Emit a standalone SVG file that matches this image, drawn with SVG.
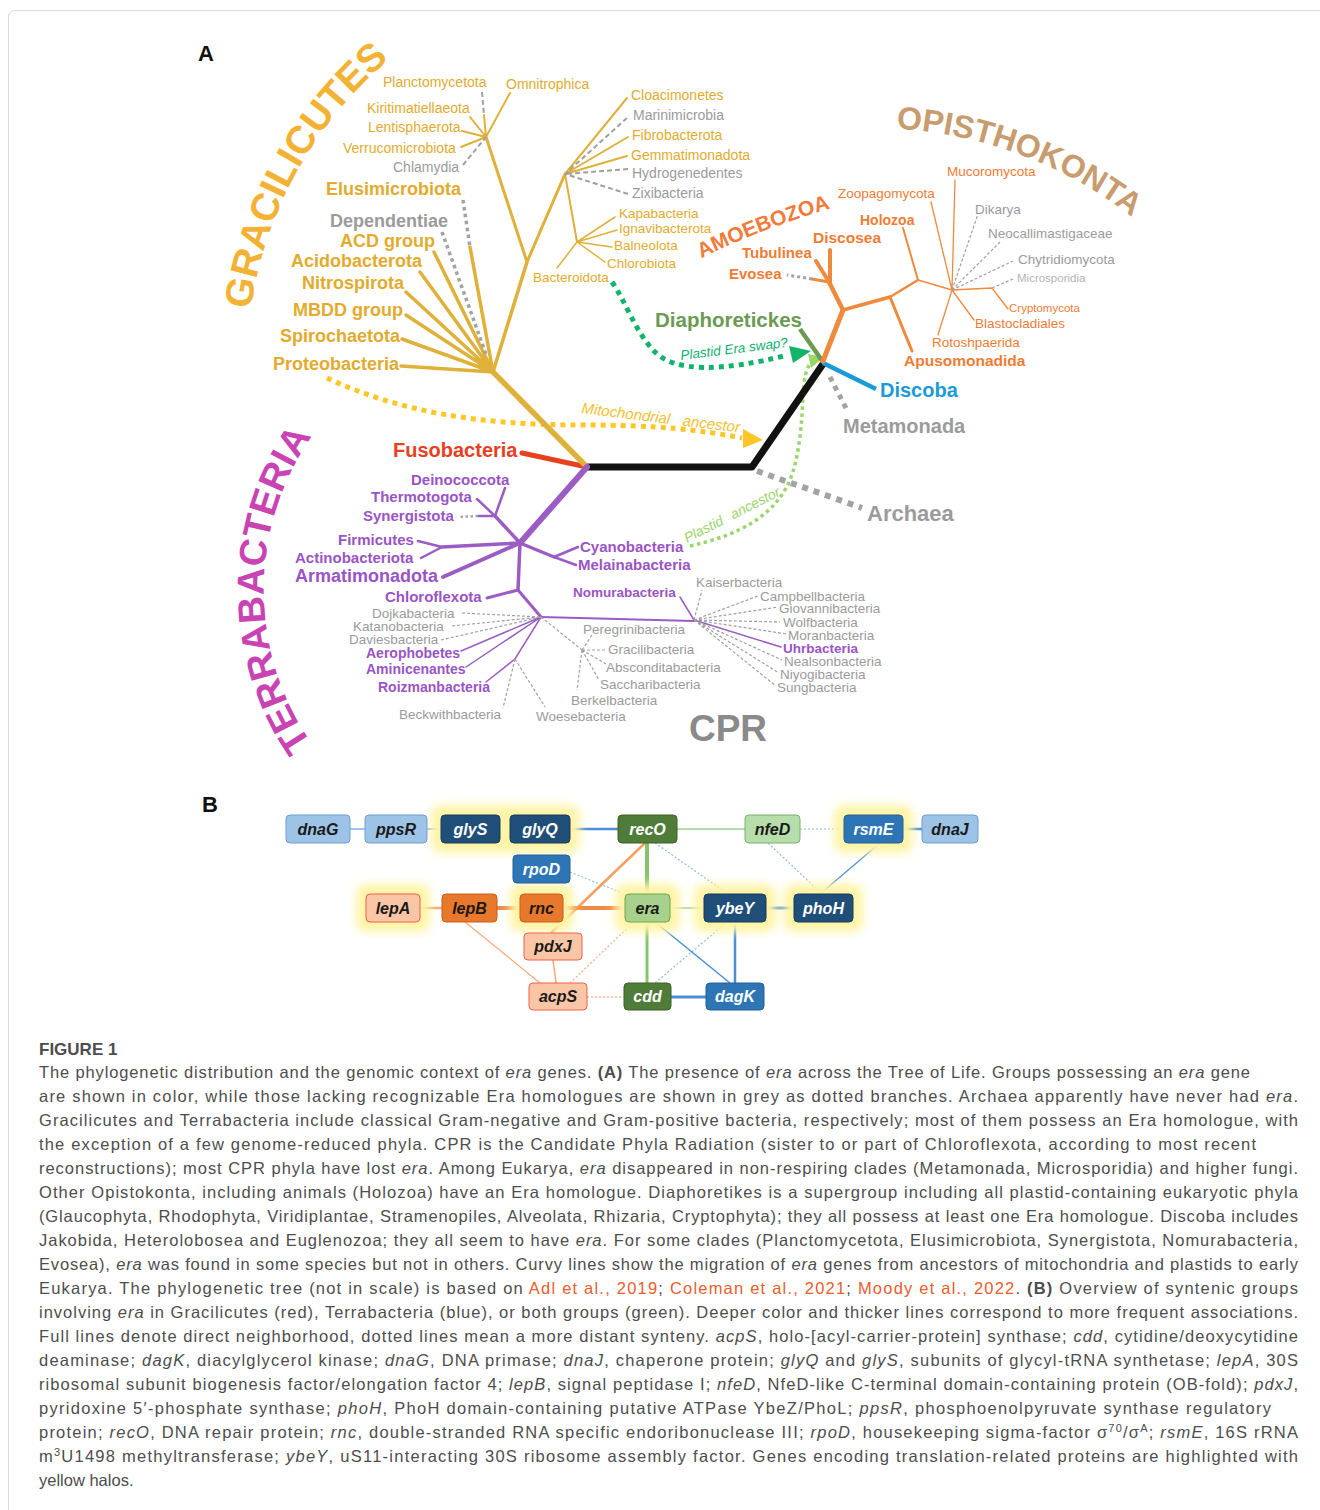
<svg xmlns="http://www.w3.org/2000/svg" width="1320" height="1510" viewBox="0 0 1320 1510">
<defs>
<style>
text{font-family:"Liberation Sans",Arial,Helvetica,sans-serif}
.b{font-weight:bold}
.cg{fill:#e3ab2e}
.cgy{fill:#9b9b9b}
.co{fill:#f07c34}
.cp{fill:#9a54c6}
.lg{stroke:#e0b13a;fill:none;stroke-linecap:round}
.gd{stroke:#a0a0a0;fill:none;stroke-dasharray:5 3;stroke-width:2}
.gd2{stroke:#a0a0a0;fill:none;stroke-dasharray:3 2;stroke-width:1.2}
.lo{stroke:#ef8a3d;fill:none;stroke-linecap:round}
.lp{stroke:#9b5cc4;fill:none;stroke-linecap:round}
.dot{fill:none;stroke:#a3a3a3}
.lb{fill:#9dc3e6;stroke:#6d9fd3}
.nv{fill:#1f4e79;stroke:#173c5e}
.mb{fill:#2e75b6;stroke:#245f96}
.dg{fill:#507c3a;stroke:#3c6029}
.lgn{fill:#a9d18e;stroke:#6fa650}
.lgn2{fill:#b7ddab;stroke:#7ab06a}
.sal{fill:#fbc6a6;stroke:#f0604a}
.or{fill:#e8782b;stroke:#c85f1a}
.gt{font-weight:bold;font-style:italic;font-size:16px;text-anchor:middle}
.wt{fill:#fff}
.dk{fill:#1a1a1a}
.halo{fill:#fff4a6}
.cap{font-family:"Open Sans","Noto Sans","Liberation Sans",sans-serif;font-size:16.5px;font-weight:300;fill:#4d4d4d}
.i{font-style:italic}
.lnk{fill:#e85d2c}
</style>
<filter id="blur" x="-50%" y="-50%" width="200%" height="200%"><feGaussianBlur stdDeviation="5"/></filter>
<path id="pGrac" d="M247,365 A399,399 0 0 1 434.6,26.6"/>
<path id="pOpis" d="M835,129.6 A425,425 0 0 1 1177.7,257.8"/>
<path id="pTerr" d="M327,763.6 A270,270 0 0 1 327,416.4"/>
<path id="pAmoe" d="M700,259 Q760,229 832,208"/>
</defs>

<rect x="8.5" y="10.5" width="1340" height="1540" rx="6" fill="none" stroke="#d9d9d9"/>

<g id="panel-labels">
<text x="198" y="61" class="b" font-size="22" fill="#111">A</text>
<text x="202" y="812" class="b" font-size="22" fill="#111">B</text>
</g>

<g id="clade-titles">
<text class="b" font-size="39" fill="#f3b234"><textPath href="#pGrac" startOffset="50%" text-anchor="middle">GRACILICUTES</textPath></text>
<text class="b" font-size="32" fill="#c89c6e"><textPath href="#pOpis" startOffset="50%" text-anchor="middle">OPISTHOKONTA</textPath></text>
<text class="b" font-size="38" fill="#c943b3"><textPath href="#pTerr" startOffset="50%" text-anchor="middle">TERRABACTERIA</textPath></text>
<text class="b" font-size="21" fill="#f27a3a"><textPath href="#pAmoe" startOffset="50%" text-anchor="middle">AMOEBOZOA</textPath></text>
<text x="728" y="741" class="b" font-size="37" fill="#8a8a8a" text-anchor="middle">CPR</text>
</g>

<g id="connectors">
<!-- migration curves -->
<path d="M327,378 C400,412 480,425 580,425 C660,425 700,430 742,438" fill="none" stroke="#ffc629" stroke-width="5" stroke-dasharray="5 5"/>
<polygon points="743,429 763,440 743,448" fill="#ffc629"/>
<path d="M612,282 C625,300 635,332 655,352 C675,372 720,372 788,355" fill="none" stroke="#12b36a" stroke-width="5" stroke-dasharray="5 5"/>
<polygon points="789,346 811,351 793,363" fill="#12b36a"/>
<path d="M690,546 C740,535 775,515 790,480 C800,455 802,420 803,395 C804,378 806,370 810,364" fill="none" stroke="#9ad66a" stroke-width="3.5" stroke-dasharray="3.5 3.5"/>
<polygon points="824,357 808,354 811,368" fill="#9ad66a"/>

<!-- backbone -->
<path d="M587,467 L752,467 L823,364" fill="none" stroke="#111" stroke-width="7" stroke-linejoin="round"/>
<path d="M757,471 L862,508" class="dot" stroke-width="6" stroke-dasharray="6 6"/>
<path d="M823,363 L876,389" fill="none" stroke="#1b9ad7" stroke-width="4.5"/>
<path d="M830,377 L847,410" class="dot" stroke-width="5" stroke-dasharray="5 5"/>
<path d="M823,362 L800,329" fill="none" stroke="#6b9b52" stroke-width="4.5"/>
<path d="M522,453 L587,467" fill="none" stroke="#e8401e" stroke-width="5" stroke-linecap="round"/>

<!-- Gracilicutes -->
<path d="M587,467 L493,372" class="lg" stroke-width="5.5"/>
<path d="M401,366 L493,372 M402,339 L493,372 M406,315 L493,372 M406,292 L493,372 M420,272 L493,372 M434,252 L493,372 M470,247 L493,372" class="lg" stroke-width="3.5"/>
<path d="M442,232 L487,357" class="dot" stroke-width="3.5" stroke-dasharray="3.5 3.5"/>
<path d="M463,200 L470,247" class="dot" stroke-width="3.5" stroke-dasharray="3.5 3.5"/>
<path d="M493,372 L527,262" class="lg" stroke-width="3.5"/>
<path d="M527,262 L486,137 M527,262 L565,174" class="lg" stroke-width="3"/>
<path d="M484,115 L486,137 M510,93 L486,137 M470,117 L486,137 M462,131 L486,137 M461,147 L486,137" class="lg" stroke-width="2"/>
<path d="M482,92 L484,115 M463,165 L486,137" class="gd"/>
<path d="M627,98 L565,174 M628,137 L565,174 M627,156 L565,174 M565,174 L577,242" class="lg" stroke-width="2"/>
<path d="M627,118 L565,174 M628,169 L565,174 M628,194 L565,174" class="gd"/>
<path d="M615,217 L577,242 M617,230 L577,242 M612,247 L577,242 M605,262 L577,242 M557,268 L577,242" class="lg" stroke-width="1.5"/>

<!-- Amorphea / Opisthokonta -->
<path d="M823,361 L843,310" class="lo" stroke-width="5"/>
<path d="M843,310 L829,282" class="lo" stroke-width="4.5"/>
<path d="M830,282 L830,250 M829,282 L816,261" class="lo" stroke-width="4"/>
<path d="M829,282 L812,279" class="lo" stroke-width="3"/>
<path d="M812,279 L787,275" class="dot" stroke-width="3" stroke-dasharray="3 3"/>
<path d="M843,310 L890,297" class="lo" stroke-width="3.5"/>
<path d="M890,297 L912,351" class="lo" stroke-width="3"/>
<path d="M890,297 L918,280" class="lo" stroke-width="2.5"/>
<path d="M918,280 L903,228" class="lo" stroke-width="2"/>
<path d="M918,280 L952,290" class="lo" stroke-width="1.8"/>
<path d="M952,290 L931,202 M952,290 L955,180 M952,290 L992,288 L1008,309 M952,290 L974,320 M952,290 L938,335" class="lo" stroke-width="1.3"/>
<path d="M952,290 L978,214 M952,290 L1000,242 M952,290 L1013,261" class="gd2"/>
<path d="M992,288 L1013,279" class="gd2" stroke="#c4c4c4"/>

<!-- Terrabacteria -->
<path d="M587,467 L520,543" class="lp" stroke-width="6"/>
<path d="M520,543 L495,516 M520,543 L442,547 M520,543 L554,557 M520,543 L518,590" class="lp" stroke-width="3.5"/>
<path d="M520,543 L443,577" class="lp" stroke-width="4"/>
<path d="M495,516 L505,488 M495,516 L477,499 M495,516 L478,516 M442,547 L418,541 M442,547 L421,558 M554,557 L578,547 M554,557 L576,565" class="lp" stroke-width="2.5"/>
<path d="M478,516 L458,517" class="dot" stroke-width="2.5" stroke-dasharray="2.5 2.5"/>
<path d="M518,590 L487,598 M518,590 L541,617" class="lp" stroke-width="3"/>
<path d="M541,617 L694,621" class="lp" stroke-width="2"/>
<path d="M461,651 L541,617 M466,667 L541,617 M486,682 L515,659 L541,617 M694,620 L680,597 M694,620 L781,647" class="lp" stroke-width="1.5"/>
<path d="M462,613 L541,617 M452,626 L541,617 M441,640 L541,617 M515,659 L503,708 M515,659 L545,707 M541,617 L582,650 M582,650 L592,635 M582,650 L607,650 M582,650 L606,664 M582,650 L599,680 M582,650 L577,690" class="gd2"/>
<path d="M694,620 L702,590 M694,620 L758,596 M694,620 L778,607 M694,620 L780,622 M694,620 L787,634 M694,620 L782,660 M694,620 L779,673 M694,620 L776,686" class="gd2"/>

<!-- Panel B connectors -->
<path d="M350,829 L365,829 M427,829 L441,829" stroke="#7fb2e5" stroke-width="1.5"/>
<path d="M500,829 L510,829" stroke="#5c7fa0" stroke-width="4"/>
<path d="M570,829 L618,829 M903,829 L922,829" stroke="#4a8fd6" stroke-width="2.5"/>
<path d="M677,829 L745,829 M670,908 L704,908" stroke="#9fd08e" stroke-width="1.5"/>
<path d="M800,829 L844,829 M655,843 L728,894 M570,872 L632,897 M822,894 L768,843 M727,922 L655,983" stroke="#8ab8e8" stroke-width="1.2" stroke-dasharray="2 2"/>
<path d="M647,843 L647,894" stroke="#86c46a" stroke-width="4"/>
<path d="M647,922 L647,983" stroke="#86c46a" stroke-width="3"/>
<path d="M645,843 L551,933" stroke="#f5a05f" stroke-width="2.5"/>
<path d="M420,908 L442,908" stroke="#f6a878" stroke-width="2.5"/>
<path d="M497,908 L520,908 M563,908 L625,908" stroke="#f08a48" stroke-width="4"/>
<path d="M766,908 L794,908 M671,997 L706,997" stroke="#4a8fd6" stroke-width="3"/>
<path d="M820,894 L880,843" stroke="#4a8fd6" stroke-width="1.2"/>
<path d="M655,922 L730,983" stroke="#4a8fd6" stroke-width="1.5"/>
<path d="M735,922 L735,983" stroke="#4a8fd6" stroke-width="2.5"/>
<path d="M465,922 L540,983" stroke="#f6a878" stroke-width="1.2"/>
<path d="M553,960 L556,983" stroke="#f6a878" stroke-width="1.5"/>
<path d="M587,997 L624,997 M638,918 L570,983" stroke="#f6b89a" stroke-width="1.5" stroke-dasharray="2 2"/>
</g>

<g id="tree-labels">
<g id="grac-labels">
<text x="399" y="370" text-anchor="end" class="b cg" font-size="18">Proteobacteria</text>
<text x="400" y="342" text-anchor="end" class="b cg" font-size="18">Spirochaetota</text>
<text x="403" y="316" text-anchor="end" class="b cg" font-size="18">MBDD group</text>
<text x="404" y="289" text-anchor="end" class="b cg" font-size="18">Nitrospirota</text>
<text x="422" y="267" text-anchor="end" class="b cg" font-size="18">Acidobacterota</text>
<text x="435" y="247" text-anchor="end" class="b cg" font-size="18">ACD group</text>
<text x="448" y="227" text-anchor="end" class="b cgy" font-size="18">Dependentiae</text>
<text x="461" y="195" text-anchor="end" class="b cg" font-size="18">Elusimicrobiota</text>
<text x="383" y="87" class="cg" font-size="14">Planctomycetota</text>
<text x="506" y="89" class="cg" font-size="14">Omnitrophica</text>
<text x="367" y="113" class="cg" font-size="14">Kiritimatiellaeota</text>
<text x="368" y="132" class="cg" font-size="14">Lentisphaerota</text>
<text x="343" y="153" class="cg" font-size="14">Verrucomicrobiota</text>
<text x="393" y="172" class="cgy" font-size="14">Chlamydia</text>
<text x="631" y="100" class="cg" font-size="14">Cloacimonetes</text>
<text x="633" y="120" class="cgy" font-size="14">Marinimicrobia</text>
<text x="632" y="140" class="cg" font-size="14">Fibrobacterota</text>
<text x="631" y="160" class="cg" font-size="14">Gemmatimonadota</text>
<text x="632" y="178" class="cgy" font-size="14">Hydrogenedentes</text>
<text x="632" y="198" class="cgy" font-size="14">Zixibacteria</text>
<text x="619" y="218" class="cg" font-size="13.5">Kapabacteria</text>
<text x="619" y="233" class="cg" font-size="13.5">Ignavibacterota</text>
<text x="614" y="250" class="cg" font-size="13.5">Balneolota</text>
<text x="607" y="268" class="cg" font-size="13.5">Chlorobiota</text>
<text x="533" y="282" class="cg" font-size="13.5">Bacteroidota</text>
</g>
<g id="migration-labels">
<text transform="translate(581,413) rotate(7)" class="i" font-size="15" fill="#f5c030"><tspan x="0">Mitochondrial</tspan><tspan x="102">ancestor</tspan></text>
<text transform="translate(681,360) rotate(-7)" class="i" font-size="13.5" fill="#10b070">Plastid Era swap?</text>
<text transform="translate(687,543) rotate(-27)" class="i" font-size="14" fill="#9ad66a"><tspan x="0">Plastid</tspan><tspan x="52">ancestor</tspan></text>
</g>
<g id="euk-labels">
<text x="393" y="457" class="b" font-size="20" fill="#e8401e">Fusobacteria</text>
<text x="867" y="521" class="b cgy" font-size="22">Archaea</text>
<text x="880" y="397" class="b" font-size="20" fill="#1b9ad7">Discoba</text>
<text x="843" y="433" class="b cgy" font-size="20">Metamonada</text>
<text x="655" y="327" class="b" font-size="20.5" fill="#6b9b52">Diaphoretickes</text>
<text x="947" y="176" class="co" font-size="13.5">Mucoromycota</text>
<text x="838" y="198" class="co" font-size="13.5">Zoopagomycota</text>
<text x="860" y="225" class="b co" font-size="14">Holozoa</text>
<text x="813" y="243" class="b co" font-size="15.5">Discosea</text>
<text x="742" y="258" class="b co" font-size="15">Tubulinea</text>
<text x="729" y="279" class="b co" font-size="15">Evosea</text>
<text x="975" y="214" class="cgy" font-size="13.5">Dikarya</text>
<text x="988" y="238" class="cgy" font-size="13.5">Neocallimastigaceae</text>
<text x="1018" y="264" class="cgy" font-size="13.5">Chytridiomycota</text>
<text x="1017" y="282" font-size="11.5" fill="#b3b3b3">Microsporidia</text>
<text x="1009" y="312" class="co" font-size="11.5">Cryptomycota</text>
<text x="975" y="328" class="co" font-size="13.5">Blastocladiales</text>
<text x="932" y="347" class="co" font-size="13.5">Rotoshpaerida</text>
<text x="904" y="366" class="b co" font-size="15.5">Apusomonadida</text>
</g>
<g id="terra-labels">
<text x="411" y="485" class="b cp" font-size="15">Deinococcota</text>
<text x="371" y="502" class="b cp" font-size="15">Thermotogota</text>
<text x="363" y="521" class="b cp" font-size="15">Synergistota</text>
<text x="338" y="545" class="b cp" font-size="15">Firmicutes</text>
<text x="295" y="563" class="b cp" font-size="15">Actinobacteriota</text>
<text x="295" y="582" class="b cp" font-size="18">Armatimonadota</text>
<text x="580" y="552" class="b cp" font-size="15">Cyanobacteria</text>
<text x="578" y="570" class="b cp" font-size="15">Melainabacteria</text>
<text x="385" y="602" class="b cp" font-size="15">Chloroflexota</text>
<text x="573" y="597" class="b cp" font-size="13.5">Nomurabacteria</text>
<text x="366" y="658" class="b cp" font-size="14">Aerophobetes</text>
<text x="366" y="674" class="b cp" font-size="14">Aminicenantes</text>
<text x="378" y="692" class="b cp" font-size="14">Roizmanbacteria</text>
<text x="783" y="653" class="b cp" font-size="13.5">Uhrbacteria</text>
<text x="372" y="618" class="cgy" font-size="13.5">Dojkabacteria</text>
<text x="353" y="631" class="cgy" font-size="13.5">Katanobacteria</text>
<text x="349" y="644" class="cgy" font-size="13.5">Daviesbacteria</text>
<text x="399" y="719" class="cgy" font-size="13.5">Beckwithbacteria</text>
<text x="536" y="721" class="cgy" font-size="13.5">Woesebacteria</text>
<text x="583" y="634" class="cgy" font-size="13.5">Peregrinibacteria</text>
<text x="608" y="654" class="cgy" font-size="13.5">Gracilibacteria</text>
<text x="606" y="672" class="cgy" font-size="13.5">Absconditabacteria</text>
<text x="600" y="689" class="cgy" font-size="13.5">Saccharibacteria</text>
<text x="571" y="705" class="cgy" font-size="13.5">Berkelbacteria</text>
<text x="696" y="587" class="cgy" font-size="13.5">Kaiserbacteria</text>
<text x="760" y="601" class="cgy" font-size="13.5">Campbellbacteria</text>
<text x="779" y="613" class="cgy" font-size="13.5">Giovannibacteria</text>
<text x="783" y="627" class="cgy" font-size="13.5">Wolfbacteria</text>
<text x="788" y="640" class="cgy" font-size="13.5">Moranbacteria</text>
<text x="784" y="666" class="cgy" font-size="13.5">Nealsonbacteria</text>
<text x="780" y="679" class="cgy" font-size="13.5">Niyogibacteria</text>
<text x="777" y="692" class="cgy" font-size="13.5">Sungbacteria</text>
</g>
</g>

<g id="halos" filter="url(#blur)">
<rect x="431" y="805" width="149" height="48" rx="10" class="halo"/>
<rect x="834" y="805" width="79" height="48" rx="10" class="halo"/>
<rect x="356" y="884" width="74" height="48" rx="10" class="halo"/>
<rect x="510" y="884" width="63" height="48" rx="10" class="halo"/>
<rect x="615" y="884" width="65" height="48" rx="10" class="halo"/>
<rect x="694" y="884" width="82" height="48" rx="10" class="halo"/>
<rect x="784" y="884" width="79" height="48" rx="10" class="halo"/>
</g>

<g id="gene-nodes">
<g id="n-dnaG"><rect x="286" y="815" width="64" height="28" rx="4" class="lb"/><text x="318" y="835" class="gt dk">dnaG</text></g>
<g id="n-ppsR"><rect x="365" y="815" width="62" height="28" rx="4" class="lb"/><text x="396" y="835" class="gt dk">ppsR</text></g>
<g id="n-glyS"><rect x="441" y="815" width="59" height="28" rx="4" class="nv"/><text x="470.5" y="835" class="gt wt">glyS</text></g>
<g id="n-glyQ"><rect x="510" y="815" width="60" height="28" rx="4" class="nv"/><text x="540" y="835" class="gt wt">glyQ</text></g>
<g id="n-recO"><rect x="618" y="815" width="59" height="28" rx="4" class="dg"/><text x="647.5" y="835" class="gt wt">recO</text></g>
<g id="n-nfeD"><rect x="745" y="815" width="55" height="28" rx="4" class="lgn2"/><text x="772.5" y="835" class="gt dk">nfeD</text></g>
<g id="n-rsmE"><rect x="844" y="815" width="59" height="28" rx="4" class="mb"/><text x="873.5" y="835" class="gt wt">rsmE</text></g>
<g id="n-dnaJ"><rect x="922" y="815" width="56" height="28" rx="4" class="lb"/><text x="950" y="835" class="gt dk">dnaJ</text></g>
<g id="n-rpoD"><rect x="513" y="855" width="57" height="28" rx="4" class="mb"/><text x="541.5" y="875" class="gt wt">rpoD</text></g>
<g id="n-lepA"><rect x="366" y="894" width="54" height="28" rx="4" class="sal"/><text x="393" y="914" class="gt dk">lepA</text></g>
<g id="n-lepB"><rect x="442" y="894" width="55" height="28" rx="4" class="or"/><text x="469.5" y="914" class="gt dk">lepB</text></g>
<g id="n-rnc"><rect x="520" y="894" width="43" height="28" rx="4" class="or"/><text x="541.5" y="914" class="gt dk">rnc</text></g>
<g id="n-era"><rect x="625" y="894" width="45" height="28" rx="4" class="lgn"/><text x="647.5" y="914" class="gt dk">era</text></g>
<g id="n-ybeY"><rect x="704" y="894" width="62" height="28" rx="4" class="nv"/><text x="735" y="914" class="gt wt">ybeY</text></g>
<g id="n-phoH"><rect x="794" y="894" width="59" height="28" rx="4" class="nv"/><text x="823.5" y="914" class="gt wt">phoH</text></g>
<g id="n-pdxJ"><rect x="524" y="933" width="58" height="27" rx="4" class="sal"/><text x="553" y="952" class="gt dk">pdxJ</text></g>
<g id="n-acpS"><rect x="529" y="983" width="58" height="27" rx="4" class="sal"/><text x="558" y="1002" class="gt dk">acpS</text></g>
<g id="n-cdd"><rect x="624" y="983" width="47" height="27" rx="4" class="dg"/><text x="647.5" y="1002" class="gt wt">cdd</text></g>
<g id="n-dagK"><rect x="706" y="983" width="58" height="27" rx="4" class="mb"/><text x="735" y="1002" class="gt wt">dagK</text></g>
</g>

<g id="caption" class="cap">
<text x="39" y="1055" font-weight="600" font-size="17">FIGURE 1</text>
<text x="39" y="1078" textLength="1211" lengthAdjust="spacing">The phylogenetic distribution and the genomic context of <tspan class="i">era</tspan> genes. <tspan font-weight="700">(A)</tspan> The presence of <tspan class="i">era</tspan> across the Tree of Life. Groups possessing an <tspan class="i">era</tspan> gene</text>
<text x="39" y="1102" textLength="1259" lengthAdjust="spacing">are shown in color, while those lacking recognizable Era homologues are shown in grey as dotted branches. Archaea apparently have never had <tspan class="i">era</tspan>.</text>
<text x="39" y="1126" textLength="1259" lengthAdjust="spacing">Gracilicutes and Terrabacteria include classical Gram-negative and Gram-positive bacteria, respectively; most of them possess an Era homologue, with</text>
<text x="39" y="1150" textLength="1217" lengthAdjust="spacing">the exception of a few genome-reduced phyla. CPR is the Candidate Phyla Radiation (sister to or part of Chloroflexota, according to most recent</text>
<text x="39" y="1174" textLength="1259" lengthAdjust="spacing">reconstructions); most CPR phyla have lost <tspan class="i">era</tspan>. Among Eukarya, <tspan class="i">era</tspan> disappeared in non-respiring clades (Metamonada, Microsporidia) and higher fungi.</text>
<text x="39" y="1198" textLength="1259" lengthAdjust="spacing">Other Opistokonta, including animals (Holozoa) have an Era homologue. Diaphoretikes is a supergroup including all plastid-containing eukaryotic phyla</text>
<text x="39" y="1222" textLength="1259" lengthAdjust="spacing">(Glaucophyta, Rhodophyta, Viridiplantae, Stramenopiles, Alveolata, Rhizaria, Cryptophyta); they all possess at least one Era homologue. Discoba includes</text>
<text x="39" y="1246" textLength="1259" lengthAdjust="spacing">Jakobida, Heterolobosea and Euglenozoa; they all seem to have <tspan class="i">era</tspan>. For some clades (Planctomycetota, Elusimicrobiota, Synergistota, Nomurabacteria,</text>
<text x="39" y="1270" textLength="1259" lengthAdjust="spacing">Evosea), <tspan class="i">era</tspan> was found in some species but not in others. Curvy lines show the migration of <tspan class="i">era</tspan> genes from ancestors of mitochondria and plastids to early</text>
<text x="39" y="1294" textLength="1259" lengthAdjust="spacing">Eukarya. The phylogenetic tree (not in scale) is based on <tspan class="lnk">Adl et al., 2019</tspan>; <tspan class="lnk">Coleman et al., 2021</tspan>; <tspan class="lnk">Moody et al., 2022</tspan>. <tspan font-weight="700">(B)</tspan> Overview of syntenic groups</text>
<text x="39" y="1318" textLength="1259" lengthAdjust="spacing">involving <tspan class="i">era</tspan> in Gracilicutes (red), Terrabacteria (blue), or both groups (green). Deeper color and thicker lines correspond to more frequent associations.</text>
<text x="39" y="1342" textLength="1259" lengthAdjust="spacing">Full lines denote direct neighborhood, dotted lines mean a more distant synteny. <tspan class="i">acpS</tspan>, holo-[acyl-carrier-protein] synthase; <tspan class="i">cdd</tspan>, cytidine/deoxycytidine</text>
<text x="39" y="1366" textLength="1259" lengthAdjust="spacing">deaminase; <tspan class="i">dagK</tspan>, diacylglycerol kinase; <tspan class="i">dnaG</tspan>, DNA primase; <tspan class="i">dnaJ</tspan>, chaperone protein; <tspan class="i">glyQ</tspan> and <tspan class="i">glyS</tspan>, subunits of glycyl-tRNA synthetase; <tspan class="i">lepA</tspan>, 30S</text>
<text x="39" y="1390" textLength="1259" lengthAdjust="spacing">ribosomal subunit biogenesis factor/elongation factor 4; <tspan class="i">lepB</tspan>, signal peptidase I; <tspan class="i">nfeD</tspan>, NfeD-like C-terminal domain-containing protein (OB-fold); <tspan class="i">pdxJ</tspan>,</text>
<text x="39" y="1414" textLength="1232" lengthAdjust="spacing">pyridoxine 5′-phosphate synthase; <tspan class="i">phoH</tspan>, PhoH domain-containing putative ATPase YbeZ/PhoL; <tspan class="i">ppsR</tspan>, phosphoenolpyruvate synthase regulatory</text>
<text x="39" y="1438" textLength="1259" lengthAdjust="spacing">protein; <tspan class="i">recO</tspan>, DNA repair protein; <tspan class="i">rnc</tspan>, double-stranded RNA specific endoribonuclease III; <tspan class="i">rpoD</tspan>, housekeeping sigma-factor σ<tspan font-size="11" baseline-shift="super">70</tspan>/σ<tspan font-size="11" baseline-shift="super">A</tspan>; <tspan class="i">rsmE</tspan>, 16S rRNA</text>
<text x="39" y="1462" textLength="1259" lengthAdjust="spacing">m<tspan font-size="11" baseline-shift="super">3</tspan>U1498 methyltransferase; <tspan class="i">ybeY</tspan>, uS11-interacting 30S ribosome assembly factor. Genes encoding translation-related proteins are highlighted with</text>
<text x="39" y="1486">yellow halos.</text>
</g>
</svg>
